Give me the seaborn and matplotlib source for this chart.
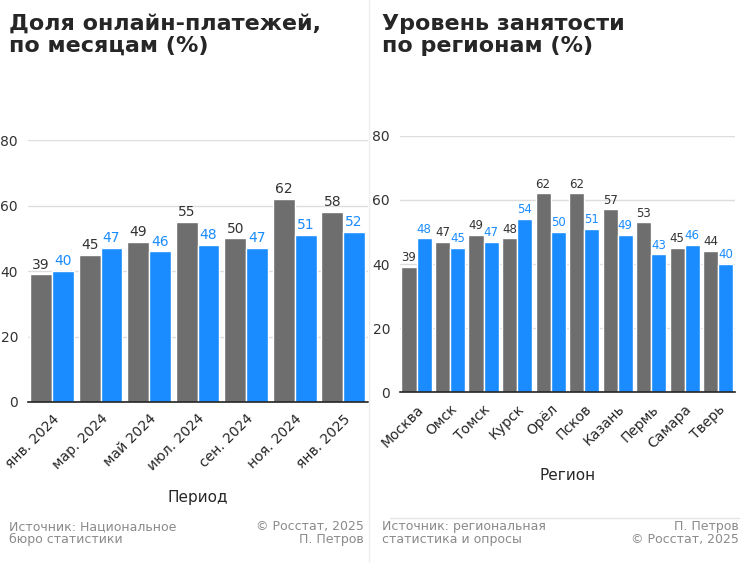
import matplotlib
matplotlib.use("Agg")
import matplotlib.pyplot as plt
import pandas as pd
import seaborn as sns

sns.set_theme(style="whitegrid")
plt.rcParams['font.family'] = ['DejaVu Sans']

# Левая панель: доля по периодам
left_periods = ["янв. 2024", "мар. 2024", "май 2024", "июл. 2024",
                "сен. 2024", "ноя. 2024", "янв. 2025"]
left_grey = [39, 45, 49, 55, 50, 62, 58]
left_blue = [40, 47, 46, 48, 47, 51, 52]

# Правая панель: по регионам
right_regions = ["Москва", "Омск", "Томск", "Курск", "Орёл",
                 "Псков", "Казань", "Пермь", "Самара", "Тверь"]
right_grey = [39, 47, 49, 48, 62, 62, 57, 53, 45, 44]
right_blue = [48, 45, 47, 54, 50, 51, 49, 43, 46, 40]

series_names = ["2024", "2025"]
palette = {"2024": "#6e6e6e", "2025": "#1a8cff"}


def to_long(cats, grey, blue):
    return pd.DataFrame({
        "cat": cats * 2,
        "val": grey + blue,
        "series": [series_names[0]] * len(cats) + [series_names[1]] * len(cats),
    })


fig = plt.figure(figsize=(7.5, 5.63), dpi=100)

ax1 = fig.add_axes([0.037, 0.286, 0.453, 0.465])
ax2 = fig.add_axes([0.533, 0.303, 0.447, 0.456])

panels = [
    (ax1, to_long(left_periods, left_grey, left_blue), "Период",
     "Доля онлайн-платежей,\nпо месяцам (%)", 0.012, 10),
    (ax2, to_long(right_regions, right_grey, right_blue), "Регион",
     "Уровень занятости\nпо регионам (%)", 0.51, 8.5),
]

for ax, df, xlabel, title, tx, lfs in panels:
    sns.barplot(data=df, x="cat", y="val", hue="series", palette=palette,
                ax=ax, width=0.9, saturation=1, legend=False)
    for cont, col in zip(ax.containers, ["#333333", "#1a8cff"]):
        ax.bar_label(cont, fmt="%d", padding=2, fontsize=lfs, color=col)
    ax.set_ylim(0, 80)
    ax.set_yticks([0, 20, 40, 60, 80])
    ax.tick_params(axis="y", labelsize=10, pad=1, colors="#333333")
    ax.tick_params(axis="x", labelsize=10, rotation=45, pad=1)
    for lbl in ax.get_xticklabels():
        lbl.set_ha("right")
        lbl.set_rotation_mode("anchor")
    ax.set_xlabel(xlabel, fontsize=11, labelpad=12)
    ax.set_ylabel("")
    ax.grid(axis="x", visible=False)
    ax.grid(axis="y", color="#dddddd", linewidth=1)
    for s in ["left", "top", "right"]:
        ax.spines[s].set_visible(False)
    ax.spines["bottom"].set_color("#222222")
    ax.spines["bottom"].set_linewidth(1.2)
    fig.text(tx, 0.975, title, fontsize=16, fontweight="bold",
             va="top", ha="left", linespacing=1.1)

# Разделитель и подписи источников
fig.add_artist(plt.Line2D([0.492, 0.492], [0.0, 1.0], color="#eeeeee", lw=1))
fig.add_artist(plt.Line2D([0.52, 0.985], [0.08, 0.08], color="#e5e5e5", lw=1))

fig.text(0.012, 0.03, "Источник: Национальное\nбюро статистики",
         fontsize=9, color="#8a8a8a", va="bottom", linespacing=1.0)
fig.text(0.485, 0.03, "© Росстат, 2025\nП. Петров",
         fontsize=9, color="#8a8a8a", va="bottom", ha="right", linespacing=1.0)
fig.text(0.51, 0.03, "Источник: региональная\nстатистика и опросы",
         fontsize=9, color="#8a8a8a", va="bottom", linespacing=1.0)
fig.text(0.985, 0.03, "П. Петров\n© Росстат, 2025",
         fontsize=9, color="#8a8a8a", va="bottom", ha="right", linespacing=1.0)

fig.savefig("out.png", dpi=100)
